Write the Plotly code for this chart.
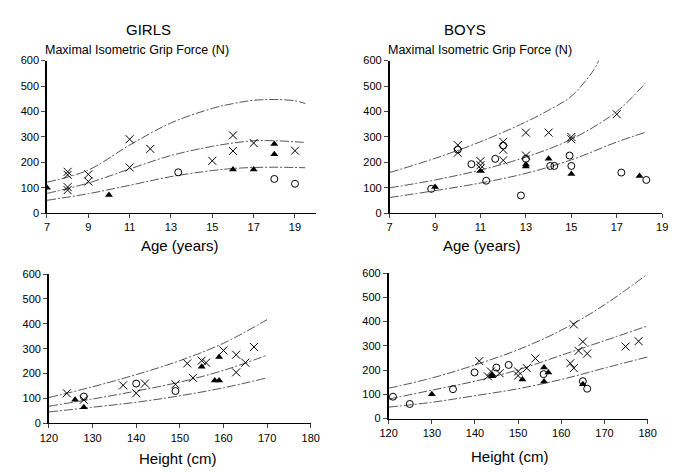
import plotly.graph_objects as go

W, H = 679, 472

# ---------------- data ----------------
# Girls, age panel
g_age_cross_x = [8, 8, 8, 8, 9, 9, 11, 11, 12, 15, 16, 16, 17, 19]
g_age_cross_y = [163, 151, 103, 91, 153, 125, 291, 180, 253, 206, 306, 245, 276, 246]
g_age_circ_x = [13.35, 18, 19]
g_age_circ_y = [161, 135, 116]
g_age_tri_x = [7, 10, 16, 17, 18, 18]
g_age_tri_y = [100, 72, 172, 172, 272, 232]
g_age_curve_x = [7, 9, 11, 13, 15, 16, 17, 18, 19, 19.5]
g_age_upper = [122, 170, 268, 355, 412, 431, 444, 447, 442, 431]
g_age_middle = [78, 119, 174, 227, 263, 276, 285, 285, 281, 278]
g_age_lower = [51, 77, 110, 144, 168, 176, 180, 181, 180, 179]

# Boys, age panel
b_age_cross_x = [10, 10, 11, 11, 11, 12, 12, 12, 13, 13, 14, 15, 15, 17]
b_age_cross_y = [268, 238, 205, 189, 176, 281, 250, 208, 317, 227, 317, 300, 291, 389]
b_age_circ_x = [8.83, 10, 10.6, 11.25, 11.65, 12, 12.78, 13, 14.07, 14.25, 14.92, 15, 17.2, 18.3]
b_age_circ_y = [96, 250, 193, 128, 214, 266, 70, 214, 186, 186, 227, 186, 160, 131]
b_age_tri_x = [9, 11, 13, 13, 14, 15, 18]
b_age_tri_y = [103, 166, 184, 192, 214, 154, 147]
b_age_up_x = [7, 9, 11, 13, 14, 15, 16, 16.2]
b_age_upper = [160, 216, 281, 359, 405, 460, 565, 600]
b_age_curve_x = [7, 9, 11, 13, 15, 17, 18.25]
b_age_middle = [100, 131, 170, 221, 291, 400, 511]
b_age_lower = [62, 89, 119, 157, 210, 280, 318]

# Girls, height panel
g_ht_cross_x = [124.1, 128, 137, 140, 142, 149, 151.7, 153, 155, 156, 160, 162.9, 162.9, 165, 167]
g_ht_cross_y = [121, 95, 153, 121, 160, 157, 241, 183, 252, 244, 293, 276, 205, 244, 307]
g_ht_circ_x = [128, 140, 149]
g_ht_circ_y = [108, 160, 130]
g_ht_tri_x = [126, 128, 155, 158, 159, 159]
g_ht_tri_y = [95, 65, 228, 172, 172, 267]
g_ht_curve_x = [120, 130, 140, 150, 160, 170]
g_ht_upper = [104, 147, 196, 252, 322, 417]
g_ht_middle = [69, 98, 130, 166, 213, 274]
g_ht_lower = [46, 65, 85, 111, 143, 183]

# Boys, height panel
b_ht_cross_x = [141, 143, 143.7, 145.7, 150, 150, 152, 154, 162.1, 162.9, 162.9, 164, 165, 166, 174.9, 177.9]
b_ht_cross_y = [237, 174, 194, 187, 194, 177, 208, 248, 228, 208, 388, 279, 317, 268, 297, 319]
b_ht_circ_x = [121, 124.9, 134.9, 139.9, 144.96, 147.8, 155.9, 165, 166]
b_ht_circ_y = [90, 60, 121, 190, 210, 221, 183, 154, 123]
b_ht_tri_x = [130, 144, 144, 151, 156, 156, 157, 165]
b_ht_tri_y = [100, 181, 174, 161, 153, 210, 190, 141]
b_ht_curve_x = [120, 130, 140, 150, 160, 170, 180]
b_ht_upper = [125, 167, 221, 284, 364, 469, 596]
b_ht_middle = [80, 117, 154, 201, 261, 321, 382]
b_ht_lower = [47, 67, 94, 123, 161, 208, 254]

# ---------------- figure ----------------
fig = go.Figure()

def px_x(p):
    return p / W

def px_y(p):
    return (H - p) / H

panels = [
    # axis suffix, x px domain, y px (bottom, top), x range, x ticks
    ("", (39, 315), (212.7, 56), [7, 20], list(range(7, 20, 2))),
    ("2", (391, 671), (212.7, 56), [7, 19], list(range(7, 20, 2))),
    ("3", (41, 310), (428.3, 275), [120, 180], list(range(120, 181, 10))),
    ("4", (390, 656), (423.3, 274), [120, 180], list(range(120, 181, 10))),
]

tick_font = dict(family="Liberation Sans, Arial, sans-serif", size=11, color="black")
for suf, xd, yd, xr, xt in panels:
    fig.layout["xaxis" + suf] = dict(
        domain=[px_x(xd[0]), px_x(xd[1])], range=xr, anchor="y" + suf,
        tickmode="array", tickvals=xt, ticks="outside", ticklen=4,
        showline=True, linecolor="black", linewidth=1, showgrid=False,
        zeroline=False, tickfont=tick_font, fixedrange=True,
    )
    fig.layout["yaxis" + suf] = dict(
        domain=[px_y(yd[0]), px_y(yd[1])], range=[0, 600], anchor="x" + suf,
        tickmode="array", tickvals=[0, 100, 200, 300, 400, 500, 600],
        ticks="outside", ticklen=4, showline=True, linecolor="black",
        linewidth=1.5, showgrid=False, zeroline=False, tickfont=tick_font,
        fixedrange=True,
    )

line_style = dict(color="#555555", width=1, dash="9px,2px,2px,2px")

def add_panel(suf, cx, cy, ox, oy, tx, ty, curves):
    xa = "x" + suf
    ya = "y" + suf
    for (lx, ly) in curves:
        fig.add_trace(go.Scatter(x=lx, y=ly, mode="lines", line=line_style,
                                 line_shape="spline", xaxis=xa, yaxis=ya,
                                 showlegend=False, hoverinfo="skip"))
    fig.add_trace(go.Scatter(x=cx, y=cy, mode="markers", xaxis=xa, yaxis=ya,
                             marker=dict(symbol="x-thin-open", size=8, color="black",
                                         line=dict(color="black", width=1)),
                             showlegend=False))
    fig.add_trace(go.Scatter(x=ox, y=oy, mode="markers", xaxis=xa, yaxis=ya,
                             marker=dict(symbol="circle-open", size=7, color="black",
                                         line=dict(color="black", width=1)),
                             showlegend=False))
    fig.add_trace(go.Scatter(x=tx, y=ty, mode="markers", xaxis=xa, yaxis=ya,
                             marker=dict(symbol="triangle-up", size=7, color="black"),
                             showlegend=False))

add_panel("", g_age_cross_x, g_age_cross_y, g_age_circ_x, g_age_circ_y,
          g_age_tri_x, g_age_tri_y,
          [(g_age_curve_x, g_age_upper), (g_age_curve_x, g_age_middle),
           (g_age_curve_x, g_age_lower)])
add_panel("2", b_age_cross_x, b_age_cross_y, b_age_circ_x, b_age_circ_y,
          b_age_tri_x, b_age_tri_y,
          [(b_age_up_x, b_age_upper), (b_age_curve_x, b_age_middle),
           (b_age_curve_x, b_age_lower)])
add_panel("3", g_ht_cross_x, g_ht_cross_y, g_ht_circ_x, g_ht_circ_y,
          g_ht_tri_x, g_ht_tri_y,
          [(g_ht_curve_x, g_ht_upper), (g_ht_curve_x, g_ht_middle),
           (g_ht_curve_x, g_ht_lower)])
add_panel("4", b_ht_cross_x, b_ht_cross_y, b_ht_circ_x, b_ht_circ_y,
          b_ht_tri_x, b_ht_tri_y,
          [(b_ht_curve_x, b_ht_upper), (b_ht_curve_x, b_ht_middle),
           (b_ht_curve_x, b_ht_lower)])

reg = "Liberation Sans, Arial, sans-serif"

def ann(text, x, y, size, xanchor="center"):
    fig.add_annotation(text=text, x=px_x(x), y=px_y(y), xref="paper", yref="paper",
                       xanchor=xanchor, yanchor="middle", showarrow=False,
                       borderpad=0, font=dict(family=reg, size=size, color="black"))

ann("GIRLS", 143, 24, 15)
ann("BOYS", 468, 24, 15)
ann("Maximal Isometric Grip Force (N)", 36, 45, 12.5, xanchor="left")
ann("Maximal Isometric Grip Force (N)", 388, 45, 12.5, xanchor="left")
ann("Age (years)", 176, 246, 15)
ann("Age (years)", 486, 246, 15)
ann("Height (cm)", 174, 464, 15)
ann("Height (cm)", 515, 462, 15)

fig.update_layout(width=W, height=H, margin=dict(l=0, r=0, t=0, b=0),
                  paper_bgcolor="white", plot_bgcolor="white", showlegend=False)

fig.write_html("out.html")
